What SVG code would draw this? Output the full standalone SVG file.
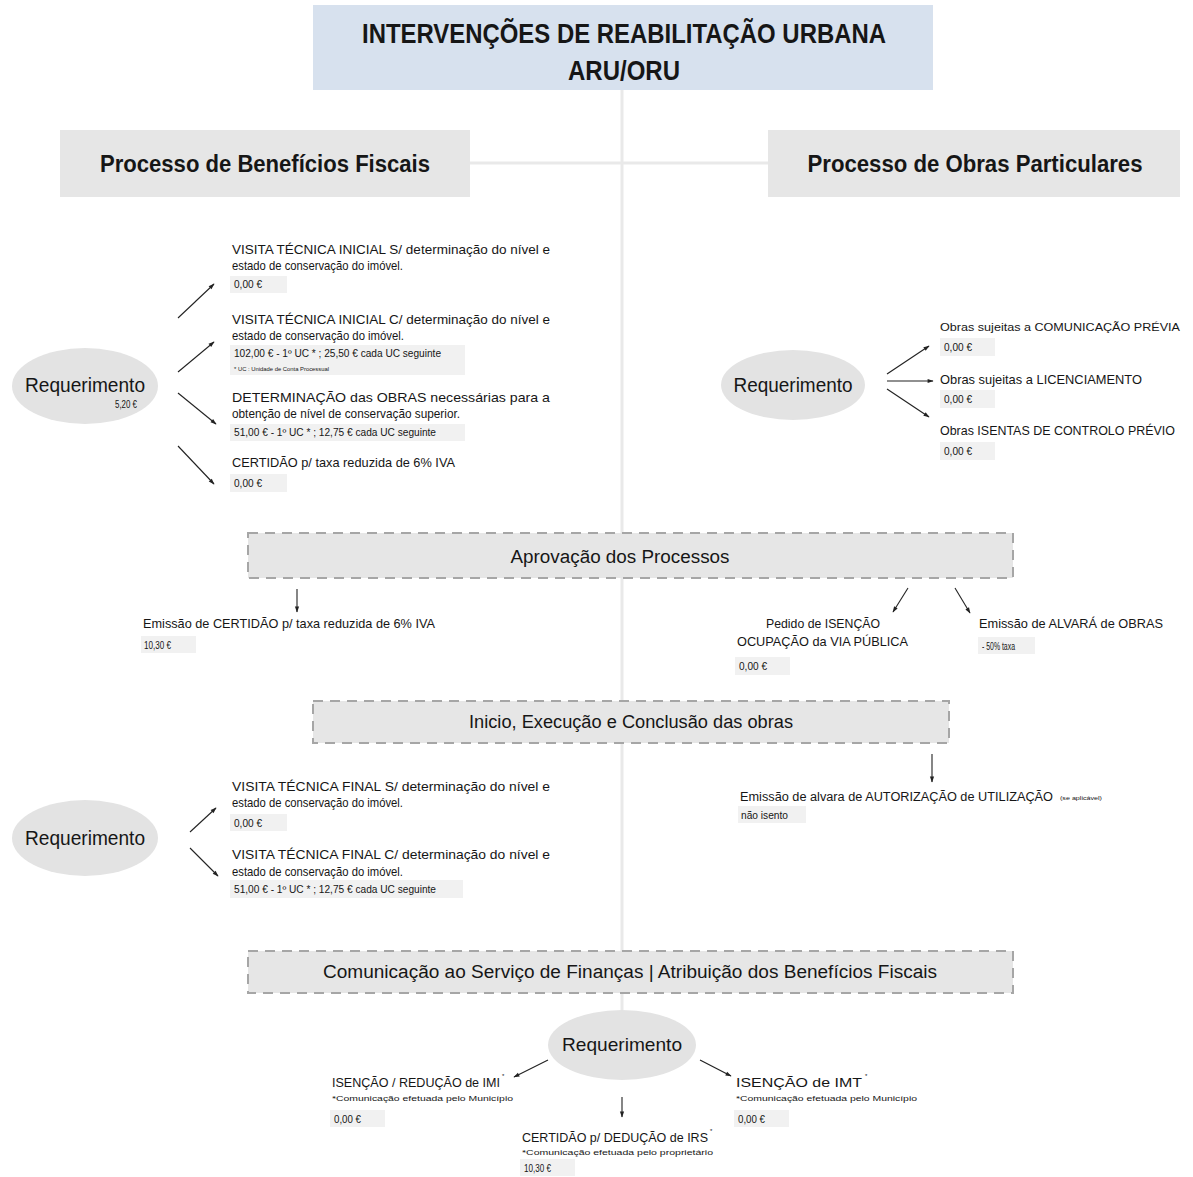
<svg xmlns="http://www.w3.org/2000/svg" width="1193" height="1177" viewBox="0 0 1193 1177">
<style>
text{font-family:"Liberation Sans",Arial,sans-serif;fill:#161616}
.title{font-size:27px;font-weight:bold;text-anchor:middle}
.hdr{font-size:23px;font-weight:bold;text-anchor:middle}
.req{font-size:21px;text-anchor:middle}
.phase{font-size:18px;text-anchor:middle}
.t{font-size:13.5px}
.v{font-size:10px}
.n{font-size:6px}
.c{font-size:7.5px}
.gbox{fill:#e6e6e6}
.vbox{fill:#f1f1f1}
.dash{fill:#e6e6e6;stroke:#a6a6a6;stroke-width:2;stroke-dasharray:10 7}
.ell{fill:#e3e3e3}
.arr{stroke:#222;stroke-width:1.1;fill:none;marker-end:url(#ah)}
.spine{stroke:#e9e9e9;stroke-width:3;fill:none}
</style>
<defs>
<marker id="ah" viewBox="0 0 10 10" refX="9" refY="5" markerWidth="8" markerHeight="6" orient="auto" markerUnits="userSpaceOnUse">
<path d="M0,1.5 L10,5 L0,8.5 z" fill="#222"/>
</marker>
</defs>
<rect width="1193" height="1177" fill="#ffffff"/>

<g id="connectors">
<line class="spine" x1="622" y1="90" x2="622" y2="1012"/>
<line class="spine" x1="470" y1="163" x2="768" y2="163"/>
<line class="arr" x1="178" y1="318" x2="214" y2="284"/>
<line class="arr" x1="178" y1="372" x2="214" y2="342"/>
<line class="arr" x1="178" y1="393" x2="216" y2="424"/>
<line class="arr" x1="178" y1="446" x2="214" y2="484"/>
<line class="arr" x1="887" y1="374" x2="929" y2="346"/>
<line class="arr" x1="887" y1="381" x2="933" y2="381"/>
<line class="arr" x1="887" y1="389" x2="929" y2="417"/>
<line class="arr" x1="297" y1="589" x2="297" y2="612"/>
<line class="arr" x1="908" y1="588" x2="893" y2="612"/>
<line class="arr" x1="955" y1="588" x2="970" y2="613"/>
<line class="arr" x1="932" y1="754" x2="932" y2="782"/>
<line class="arr" x1="190" y1="832" x2="216" y2="808"/>
<line class="arr" x1="190" y1="848" x2="218" y2="876"/>
<line class="arr" x1="548" y1="1060" x2="514" y2="1077"/>
<line class="arr" x1="700" y1="1060" x2="731" y2="1076"/>
<line class="arr" x1="622" y1="1097" x2="622" y2="1117"/>
</g>

<g id="title">
<rect x="313" y="5" width="620" height="85" fill="#d7e1ee"/>
<text class="title" x="624" y="43" textLength="524" lengthAdjust="spacingAndGlyphs">INTERVENÇÕES DE REABILITAÇÃO URBANA</text>
<text class="title" x="624" y="80" textLength="112" lengthAdjust="spacingAndGlyphs">ARU/ORU</text>
</g>

<g id="hdr-fiscais">
<rect class="gbox" x="60" y="130" width="410" height="67"/>
<text class="hdr" x="265" y="172" textLength="330" lengthAdjust="spacingAndGlyphs">Processo de Benefícios Fiscais</text>
</g>

<g id="hdr-obras">
<rect class="gbox" x="768" y="130" width="412" height="67"/>
<text class="hdr" x="975" y="172" textLength="335" lengthAdjust="spacingAndGlyphs">Processo de Obras Particulares</text>
</g>

<g id="req-left-1">
<ellipse class="ell" cx="85" cy="386" rx="73" ry="38"/>
<text class="req" x="85" y="392" textLength="120" lengthAdjust="spacingAndGlyphs">Requerimento</text>
<text class="v" x="115" y="408" textLength="22" lengthAdjust="spacingAndGlyphs">5,20 €</text>
</g>

<g id="visita-inicial-s">
<text class="t" x="232" y="254" textLength="318" lengthAdjust="spacingAndGlyphs">VISITA TÉCNICA INICIAL S/ determinação do nível e</text>
<text class="t" x="232" y="270" textLength="171" lengthAdjust="spacingAndGlyphs">estado de conservação do imóvel.</text>
<rect class="vbox" x="230" y="276" width="57" height="17"/>
<text class="v" x="234" y="288" textLength="28" lengthAdjust="spacingAndGlyphs">0,00 €</text>
</g>

<g id="visita-inicial-c">
<text class="t" x="232" y="324" textLength="318" lengthAdjust="spacingAndGlyphs">VISITA TÉCNICA INICIAL C/ determinação do nível e</text>
<text class="t" x="232" y="340" textLength="172" lengthAdjust="spacingAndGlyphs">estado de conservação do imóvel.</text>
<rect class="vbox" x="230" y="345" width="235" height="30"/>
<text class="v" x="234" y="357" textLength="207" lengthAdjust="spacingAndGlyphs">102,00 € - 1º UC * ; 25,50 € cada UC seguinte</text>
<text class="n" x="234" y="371" textLength="95" lengthAdjust="spacingAndGlyphs">* UC : Unidade de Conta Processual</text>
</g>

<g id="determinacao">
<text class="t" x="232" y="402" textLength="318" lengthAdjust="spacingAndGlyphs">DETERMINAÇÃO das OBRAS necessárias para a</text>
<text class="t" x="232" y="418" textLength="228" lengthAdjust="spacingAndGlyphs">obtenção de nível de conservação superior.</text>
<rect class="vbox" x="230" y="424" width="235" height="17"/>
<text class="v" x="234" y="436" textLength="202" lengthAdjust="spacingAndGlyphs">51,00 € - 1º UC * ; 12,75 € cada UC seguinte</text>
</g>

<g id="certidao-iva">
<text class="t" x="232" y="467" textLength="223" lengthAdjust="spacingAndGlyphs">CERTIDÃO p/ taxa reduzida de 6% IVA</text>
<rect class="vbox" x="230" y="474" width="57" height="18"/>
<text class="v" x="234" y="487" textLength="28" lengthAdjust="spacingAndGlyphs">0,00 €</text>
</g>

<g id="req-right">
<ellipse class="ell" cx="793" cy="385" rx="72" ry="35"/>
<text class="req" x="793" y="392" textLength="119" lengthAdjust="spacingAndGlyphs">Requerimento</text>
</g>

<g id="obras-comunicacao">
<text class="t" x="940" y="331" style="font-size:11.5px" textLength="240" lengthAdjust="spacingAndGlyphs">Obras sujeitas a COMUNICAÇÃO PRÉVIA</text>
<rect class="vbox" x="940" y="338" width="55" height="18"/>
<text class="v" x="944" y="351" textLength="28" lengthAdjust="spacingAndGlyphs">0,00 €</text>
</g>

<g id="obras-licenciamento">
<text class="t" x="940" y="384" textLength="202" lengthAdjust="spacingAndGlyphs">Obras sujeitas a LICENCIAMENTO</text>
<rect class="vbox" x="940" y="390" width="55" height="18"/>
<text class="v" x="944" y="403" textLength="28" lengthAdjust="spacingAndGlyphs">0,00 €</text>
</g>

<g id="obras-isentas">
<text class="t" x="940" y="435" textLength="235" lengthAdjust="spacingAndGlyphs">Obras ISENTAS DE CONTROLO PRÉVIO</text>
<rect class="vbox" x="940" y="442" width="55" height="18"/>
<text class="v" x="944" y="455" textLength="28" lengthAdjust="spacingAndGlyphs">0,00 €</text>
</g>

<g id="aprovacao">
<rect class="dash" x="248" y="533" width="765" height="45"/>
<text class="phase" x="620" y="563" textLength="219" lengthAdjust="spacingAndGlyphs">Aprovação dos Processos</text>
</g>

<g id="emissao-certidao">
<text class="t" x="143" y="628" textLength="292" lengthAdjust="spacingAndGlyphs">Emissão de CERTIDÃO p/ taxa reduzida de 6% IVA</text>
<rect class="vbox" x="141" y="636" width="55" height="17"/>
<text class="v" x="144" y="649" textLength="27" lengthAdjust="spacingAndGlyphs">10,30 €</text>
</g>

<g id="pedido-isencao">
<text class="t" x="823" y="628" text-anchor="middle" textLength="114" lengthAdjust="spacingAndGlyphs">Pedido de ISENÇÃO</text>
<text class="t" x="737" y="646" textLength="171" lengthAdjust="spacingAndGlyphs">OCUPAÇÃO da VIA PÚBLICA</text>
<rect class="vbox" x="735" y="657" width="55" height="18"/>
<text class="v" x="739" y="670" textLength="28" lengthAdjust="spacingAndGlyphs">0,00 €</text>
</g>

<g id="alvara-obras">
<text class="t" x="979" y="628" textLength="184" lengthAdjust="spacingAndGlyphs">Emissão de ALVARÁ de OBRAS</text>
<rect class="vbox" x="978" y="637" width="57" height="17"/>
<text class="v" x="982" y="650" textLength="33" lengthAdjust="spacingAndGlyphs">- 50% taxa</text>
</g>

<g id="inicio">
<rect class="dash" x="313" y="701" width="636" height="42"/>
<text class="phase" x="631" y="728" textLength="324" lengthAdjust="spacingAndGlyphs">Inicio, Execução e Conclusão das obras</text>
</g>

<g id="autorizacao">
<text class="t" x="740" y="801" style="font-size:12px" textLength="313" lengthAdjust="spacingAndGlyphs">Emissão de alvara de AUTORIZAÇÃO de UTILIZAÇÃO</text>
<text class="n" x="1060" y="800" textLength="42" lengthAdjust="spacingAndGlyphs">(se aplicável)</text>
<rect class="vbox" x="738" y="806" width="68" height="17"/>
<text class="v" x="741" y="819" textLength="47" lengthAdjust="spacingAndGlyphs">não isento</text>
</g>

<g id="req-left-2">
<ellipse class="ell" cx="85" cy="838" rx="73" ry="38"/>
<text class="req" x="85" y="845" textLength="120" lengthAdjust="spacingAndGlyphs">Requerimento</text>
</g>

<g id="visita-final-s">
<text class="t" x="232" y="791" textLength="318" lengthAdjust="spacingAndGlyphs">VISITA TÉCNICA FINAL S/ determinação do nível e</text>
<text class="t" x="232" y="807" textLength="171" lengthAdjust="spacingAndGlyphs">estado de conservação do imóvel.</text>
<rect class="vbox" x="230" y="814" width="57" height="17"/>
<text class="v" x="234" y="827" textLength="28" lengthAdjust="spacingAndGlyphs">0,00 €</text>
</g>

<g id="visita-final-c">
<text class="t" x="232" y="859" textLength="318" lengthAdjust="spacingAndGlyphs">VISITA TÉCNICA FINAL C/ determinação do nível e</text>
<text class="t" x="232" y="876" textLength="171" lengthAdjust="spacingAndGlyphs">estado de conservação do imóvel.</text>
<rect class="vbox" x="230" y="880" width="233" height="18"/>
<text class="v" x="234" y="893" textLength="202" lengthAdjust="spacingAndGlyphs">51,00 € - 1º UC * ; 12,75 € cada UC seguinte</text>
</g>

<g id="comunicacao">
<rect class="dash" x="248" y="951" width="765" height="42"/>
<text class="phase" x="630" y="978" textLength="614" lengthAdjust="spacingAndGlyphs">Comunicação ao Serviço de Finanças | Atribuição dos Benefícios Fiscais</text>
</g>

<g id="req-bottom">
<ellipse class="ell" cx="622" cy="1045" rx="74" ry="35"/>
<text class="req" x="622" y="1051" style="font-size:19px" textLength="120" lengthAdjust="spacingAndGlyphs">Requerimento</text>
</g>

<g id="imi">
<text class="t" x="332" y="1087" textLength="168" lengthAdjust="spacingAndGlyphs">ISENÇÃO / REDUÇÃO de IMI</text>
<text class="n" x="502" y="1078">*</text>
<text class="c" x="332" y="1101" textLength="181" lengthAdjust="spacingAndGlyphs">*Comunicação efetuada pelo Município</text>
<rect class="vbox" x="330" y="1110" width="55" height="17"/>
<text class="v" x="334" y="1123" textLength="27" lengthAdjust="spacingAndGlyphs">0,00 €</text>
</g>

<g id="imt">
<text class="t" x="736" y="1087" textLength="126" lengthAdjust="spacingAndGlyphs">ISENÇÃO de IMT</text>
<text class="n" x="865" y="1078">*</text>
<text class="c" x="736" y="1101" textLength="181" lengthAdjust="spacingAndGlyphs">*Comunicação efetuada pelo Município</text>
<rect class="vbox" x="734" y="1110" width="55" height="17"/>
<text class="v" x="738" y="1123" textLength="27" lengthAdjust="spacingAndGlyphs">0,00 €</text>
</g>

<g id="irs">
<text class="t" x="522" y="1142" textLength="186" lengthAdjust="spacingAndGlyphs">CERTIDÃO p/ DEDUÇÃO de IRS</text>
<text class="n" x="710" y="1133">*</text>
<text class="c" x="522" y="1155" textLength="191" lengthAdjust="spacingAndGlyphs">*Comunicação efetuada pelo proprietário</text>
<rect class="vbox" x="520" y="1159" width="55" height="17"/>
<text class="v" x="524" y="1172" textLength="27" lengthAdjust="spacingAndGlyphs">10,30 €</text>
</g>
</svg>
